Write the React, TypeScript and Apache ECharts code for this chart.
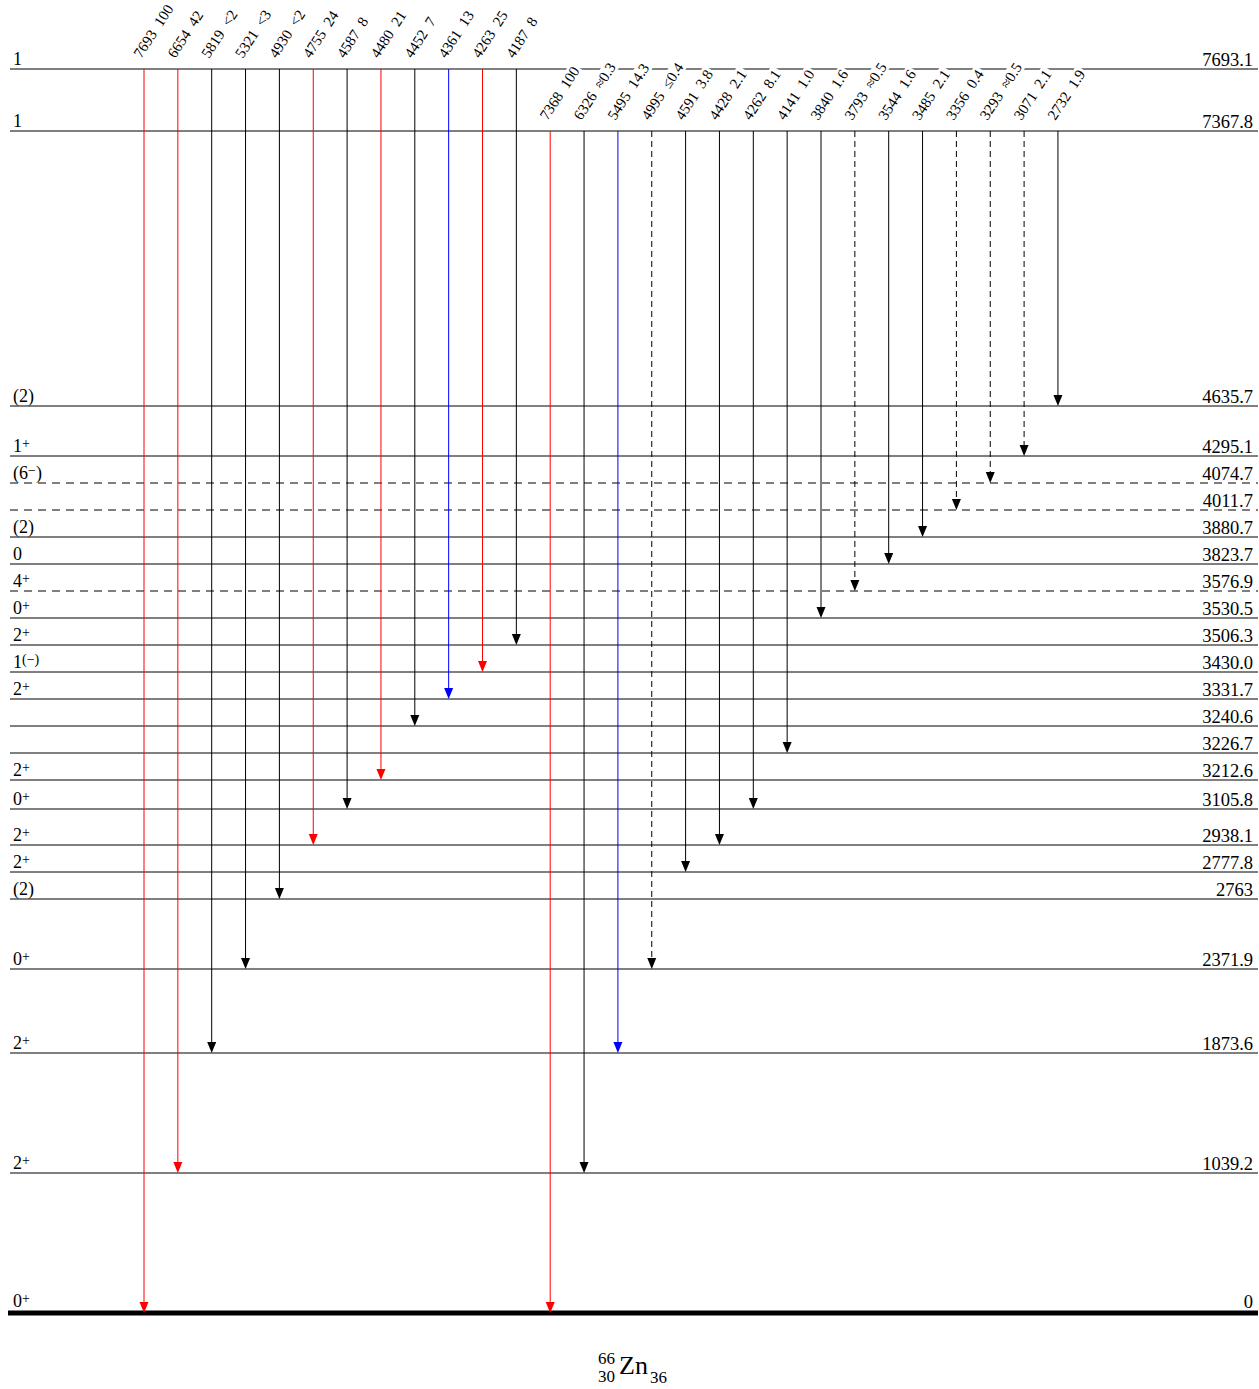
import React, { useEffect, useRef } from "react";
import * as echarts from "echarts";

// ---------- data ----------
const levelEnergies = [
  "7693.1", "7367.8", "4635.7", "4295.1", "4074.7", "4011.7", "3880.7", "3823.7",
  "3576.9", "3530.5", "3506.3", "3430.0", "3331.7", "3240.6", "3226.7", "3212.6",
  "3105.8", "2938.1", "2777.8", "2763", "2371.9", "1873.6", "1039.2", "0",
];
// spin-parity: [base, superscript, tail]
const levelSpins: string[][] = [
  ["1", "", ""], ["1", "", ""], ["(2)", "", ""], ["1", "+", ""], ["(6", "−", ")"],
  ["", "", ""], ["(2)", "", ""], ["0", "", ""], ["4", "+", ""], ["0", "+", ""],
  ["2", "+", ""], ["1", "(−)", ""], ["2", "+", ""], ["", "", ""], ["", "", ""],
  ["2", "+", ""], ["0", "+", ""], ["2", "+", ""], ["2", "+", ""], ["(2)", "", ""],
  ["0", "+", ""], ["2", "+", ""], ["2", "+", ""], ["0", "+", ""],
];
const levelTentative = [
  false, false, false, false, true, true, false, false, true, false, false, false,
  false, false, false, false, false, false, false, false, false, false, false, false,
];

const gammaEnergies = [
  "7693", "6654", "5819", "5321", "4930", "4755", "4587", "4480", "4452", "4361", "4263", "4187",
  "7368", "6326", "5495", "4995", "4591", "4428", "4262", "4141", "3840", "3793", "3544", "3485",
  "3356", "3293", "3071", "2732",
];
const gammaIntensities = [
  "100", "42", "<2", "<3", "<2", "24", "8", "21", "7", "13", "25", "8",
  "100", "≈0.3", "14.3", "≤0.4", "3.8", "2.1", "8.1", "1.0", "1.6", "≈0.5", "1.6", "2.1",
  "0.4", "≈0.5", "2.1", "1.9",
];
const gammaFrom = [
  0, 0, 0, 0, 0, 0, 0, 0, 0, 0, 0, 0,
  1, 1, 1, 1, 1, 1, 1, 1, 1, 1, 1, 1, 1, 1, 1, 1,
];
const gammaTo = [
  23, 22, 21, 20, 19, 17, 16, 15, 13, 12, 11, 10,
  23, 22, 21, 20, 18, 17, 16, 14, 9, 8, 7, 6, 5, 4, 3, 2,
];
// kind: s = strong (red), m = medium (blue), w = ordinary (black), t = tentative (dashed)
const gammaKind = [
  "s", "s", "w", "w", "w", "s", "w", "s", "w", "m", "s", "w",
  "s", "w", "m", "t", "w", "w", "w", "w", "w", "t", "w", "w", "t", "t", "t", "w",
];

// ---------- layout ----------
const LEVEL_ROW = [
  69, 131, 406, 456, 483, 510, 537, 564, 591, 618, 645, 672, 699, 726, 753, 780,
  809, 845, 872, 899, 969, 1053, 1173, 1313,
];
const COL_PX0 = 144;
const COL_STEP = 33.85;
const W = 1259;
const H = 1389;
const X_MIN = -COL_PX0 / COL_STEP;
const X_MAX = (W - COL_PX0) / COL_STEP;
const LEVEL_X_START = (10 - COL_PX0) / COL_STEP;
const GROUND_X_START = (8 - COL_PX0) / COL_STEP;
const LEVEL_X_END = (1258 - COL_PX0) / COL_STEP;
const SERIF = '"Liberation Serif", "DejaVu Serif", serif';
const KIND_COLOR: Record<string, string> = { s: "#ff0000", m: "#0000ff", w: "#000000", t: "#000000" };

function spinRich(sp: string[]) {
  let s = "";
  if (sp[0]) s += `{n|${sp[0]}}`;
  if (sp[1]) s += `{s|${sp[1]}}`;
  if (sp[2]) s += `{n|${sp[2]}}`;
  return s;
}

export default function App() {
  const ref = useRef<HTMLDivElement>(null);
  useEffect(() => {
    const chart = echarts.init(ref.current!, null, { renderer: "svg" });
    const option: any = {
      animation: false,
      backgroundColor: "#ffffff",
      grid: { left: 0, right: 0, top: 0, bottom: 0 },
      xAxis: { type: "value", min: X_MIN, max: X_MAX, show: false },
      yAxis: { type: "value", min: 0, max: H, inverse: true, show: false },
      series: [
        {
          type: "custom",
          silent: true,
          z: 1,
          data: levelEnergies.map((e, i) => [i, LEVEL_ROW[i]]),
          renderItem: (params: any, api: any) => {
            const i = api.value(0) as number;
            const row = api.value(1) as number;
            const ground = i === levelEnergies.length - 1;
            const [xa, y] = api.coord([ground ? GROUND_X_START : LEVEL_X_START, row]);
            const xb = api.coord([LEVEL_X_END, row])[0];
            const children: any[] = [
              {
                type: "line",
                shape: { x1: xa, y1: y, x2: xb, y2: y },
                style: {
                  stroke: "#000",
                  lineWidth: ground ? 5 : 1,
                  lineDash: levelTentative[i] ? [8, 6] : null,
                },
              },
            ];
            const sr = spinRich(levelSpins[i]);
            if (sr) {
              children.push({
                type: "text",
                x: api.coord([LEVEL_X_START, row])[0] + 3,
                y: y - (ground ? 3 : 1),
                style: {
                  text: sr,
                  align: "left",
                  verticalAlign: "bottom",
                  fill: "#000",
                  rich: {
                    n: { fontFamily: SERIF, fontSize: 18, lineHeight: 19, verticalAlign: "bottom", fill: "#000" },
                    s: { fontFamily: SERIF, fontSize: 14, lineHeight: 8, verticalAlign: "top", fill: "#000" },
                  },
                },
              });
            }
            children.push({
              type: "text",
              x: xb - 5,
              y: y - (ground ? 2 : 0),
              style: {
                text: levelEnergies[i],
                align: "right",
                verticalAlign: "bottom",
                fill: "#000",
                font: `18.5px ${SERIF}`,
                lineHeight: 19,
              },
            });
            return { type: "group", children };
          },
        },
        {
          type: "custom",
          silent: true,
          z: 2,
          data: gammaEnergies.map((e, i) => [i, LEVEL_ROW[gammaTo[i]]]),
          renderItem: (params: any, api: any) => {
            const i = api.value(0) as number;
            const rowTop = LEVEL_ROW[gammaFrom[i]];
            const [x, yBot] = api.coord([i, api.value(1)]);
            const yTop = api.coord([i, rowTop])[1];
            const color = KIND_COLOR[gammaKind[i]];
            const ah = 11;
            const aw = 4.5;
            return {
              type: "group",
              children: [
                {
                  type: "line",
                  shape: { x1: x, y1: yTop, x2: x, y2: yBot - ah + 1 },
                  style: {
                    stroke: color,
                    lineWidth: 1,
                    lineDash: gammaKind[i] === "t" ? [6, 4] : null,
                  },
                },
                {
                  type: "polygon",
                  shape: { points: [[x, yBot], [x - aw, yBot - ah], [x + aw, yBot - ah]] },
                  style: { fill: color, stroke: null },
                },
                {
                  type: "text",
                  x: x - 8,
                  y: yTop - 11,
                  rotation: (57 * Math.PI) / 180,
                  style: {
                    text: `${gammaEnergies[i]}\u00a0\u00a0${gammaIntensities[i]}`,
                    align: "left",
                    verticalAlign: "middle",
                    fill: "#000",
                    font: `15px ${SERIF}`,
                    backgroundColor: "#ffffff",
                    padding: [0, 2],
                  },
                },
              ],
            };
          },
        },
      ],
      graphic: [
        {
          type: "text",
          left: 619,
          top: 1352,
          style: { text: "Zn", font: `26px ${SERIF}`, fill: "#000" },
        },
        {
          type: "text",
          left: 598,
          top: 1350,
          style: { text: "66", font: `17px ${SERIF}`, fill: "#000" },
        },
        {
          type: "text",
          left: 598,
          top: 1368,
          style: { text: "30", font: `17px ${SERIF}`, fill: "#000" },
        },
        {
          type: "text",
          left: 650,
          top: 1369,
          style: { text: "36", font: `17px ${SERIF}`, fill: "#000" },
        },
      ],
    };
    chart.setOption(option);
    return () => chart.dispose();
  }, []);
  return (
    <div
      ref={ref}
      style={{ position: "absolute", left: 0, top: 0, width: W, height: H, background: "#fff" }}
    />
  );
}
